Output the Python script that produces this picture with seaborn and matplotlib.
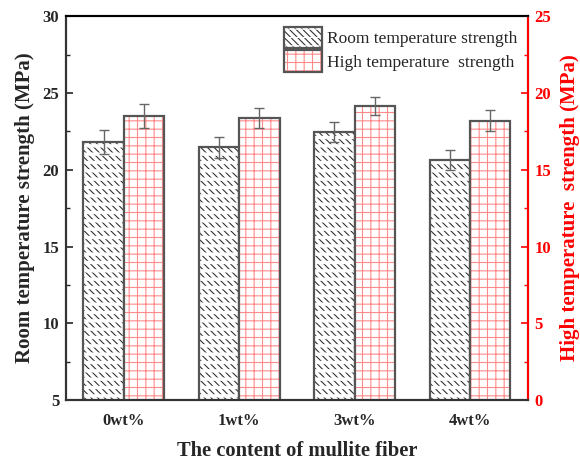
import matplotlib
matplotlib.use("Agg")
import matplotlib.pyplot as plt
import matplotlib.patches as mpatches
from matplotlib.legend_handler import HandlerTuple
from matplotlib.ticker import MultipleLocator
import seaborn as sns
import pandas as pd
import numpy as np

# values
contents = ["0wt%", "1wt%", "3wt%", "4wt%"]
room_strength = [21.8, 21.45, 22.45, 20.63]
room_err = [0.8, 0.67, 0.67, 0.65]
high_strength = [18.5, 18.34, 19.14, 18.18]
high_err = [0.77, 0.65, 0.57, 0.68]

series = ["Room temperature strength", "High temperature  strength"]

sns.set_theme(style="white")
plt.rcParams["font.family"] = ["Liberation Serif", "DejaVu Serif"]
plt.rcParams["hatch.linewidth"] = 0.8

n = len(contents)
df = pd.DataFrame({
    "content": contents * 2,
    "series": [series[0]] * n + [series[1]] * n,
    "room": room_strength + [np.nan] * n,
    "high": [np.nan] * n + high_strength,
})

fig = plt.figure(figsize=(5.8, 4.63), dpi=100)
ax = fig.add_axes([0.114, 0.136, 0.796, 0.829])
ax2 = ax.twinx()

grey = "#555555"
hatch_dark = "#333333"
hatch_red = "#ff8a8a"
room_hatch = "\\\\\\\\\\"


def bars(axis, col, **kw):
    sns.barplot(data=df, x="content", y=col, hue="series", hue_order=series,
                order=contents, width=0.7, ax=axis, errorbar=None,
                legend=False, **kw)


# hatched fill layer
bars(ax, "room", color="white", linewidth=0)
bars(ax2, "high", color="white", linewidth=0)
for p in ax.patches:
    p.set_facecolor("white")
    p.set_edgecolor(hatch_dark)
    p.set_hatch(room_hatch)
    p.set_linewidth(0)
for p in ax2.patches:
    p.set_facecolor("white")
    p.set_edgecolor(hatch_red)
    p.set_hatch("++")
    p.set_linewidth(0)

# white horizontal bands over the room hatch (rows of short strokes)
bars(ax, "room", fill=False, linewidth=0)
for p in ax.patches[n:]:
    p.set_edgecolor("white")
    p.set_hatch("--")
    p.set_linewidth(0)
    if hasattr(p, "set_hatch_linewidth"):
        p.set_hatch_linewidth(2.4)

# outline layer
bars(ax, "room", fill=False, linewidth=1.6)
bars(ax2, "high", fill=False, linewidth=1.6)
for p in ax.patches[2 * n:] + ax2.patches[n:]:
    p.set_edgecolor(grey)

# error bars at the bar centres
rx = [p.get_x() + p.get_width() / 2 for p in ax.patches[:n]]
hx = [p.get_x() + p.get_width() / 2 for p in ax2.patches[:n]]
ax.errorbar(rx, room_strength, yerr=room_err, fmt="none", ecolor="#666666",
            elinewidth=1.0, capsize=3.5, capthick=1.0)
ax2.errorbar(hx, high_strength, yerr=high_err, fmt="none", ecolor="#666666",
             elinewidth=1.0, capsize=3.5, capthick=1.0)

ax.set_xlim(-0.5, 3.5)
ax.set_ylim(5, 30)
ax2.set_ylim(0, 25)
ax.yaxis.set_major_locator(MultipleLocator(5))
ax.yaxis.set_minor_locator(MultipleLocator(2.5))
ax2.yaxis.set_major_locator(MultipleLocator(5))
ax2.yaxis.set_minor_locator(MultipleLocator(2.5))

bold = dict(fontweight="bold")
ax.set_xlabel("The content of mullite fiber", fontsize=14.8, labelpad=9, **bold)
ax.set_ylabel("Room temperature strength (MPa)", fontsize=15, labelpad=5,
              **bold)
ax2.set_ylabel("High temperature  strength (MPa)", fontsize=15, color="red",
               labelpad=6, **bold)

ax.tick_params(axis="y", which="major", direction="in", length=5, width=1.2,
               labelsize=12, left=True, pad=5)
ax.tick_params(axis="y", which="minor", direction="in", length=3, width=1.0,
               left=True)
ax.tick_params(axis="x", length=0, labelsize=12, pad=9)
ax2.tick_params(axis="y", which="major", direction="in", length=5, width=1.2,
                labelsize=12, colors="red", right=True, pad=5)
ax2.tick_params(axis="y", which="minor", direction="in", length=3, width=1.0,
                colors="red", right=True)
for lab in ax.get_xticklabels() + ax.get_yticklabels() + ax2.get_yticklabels():
    lab.set_fontweight("bold")

for a in (ax, ax2):
    for s in a.spines.values():
        s.set_linewidth(1.5)
        s.set_color("black")
ax2.spines["right"].set_color("red")
ax2.spines["left"].set_color("#333333")
ax2.spines["bottom"].set_color("#333333")

room_fill = mpatches.Patch(facecolor="white", edgecolor=hatch_dark,
                           hatch=room_hatch, linewidth=0)
room_band = mpatches.Patch(facecolor="none", edgecolor="white", hatch="--",
                           linewidth=0)
if hasattr(room_band, "set_hatch_linewidth"):
    room_band.set_hatch_linewidth(2.4)
room_edge = mpatches.Patch(facecolor="none", edgecolor=grey, linewidth=1.6)
high_fill = mpatches.Patch(facecolor="white", edgecolor=hatch_red, hatch="++",
                           linewidth=0)
high_edge = mpatches.Patch(facecolor="none", edgecolor=grey, linewidth=1.6)

ax2.legend([(room_fill, room_band, room_edge), (high_fill, high_edge)],
           series, loc="upper right", frameon=False, fontsize=12.5,
           handler_map={tuple: HandlerTuple(ndivide=1, pad=0)},
           handlelength=2.2, handleheight=1.5, handletextpad=0.3,
           labelspacing=0.15, bbox_to_anchor=(1.0, 1.0), borderaxespad=0.2)

fig.savefig("out.png", dpi=100)
